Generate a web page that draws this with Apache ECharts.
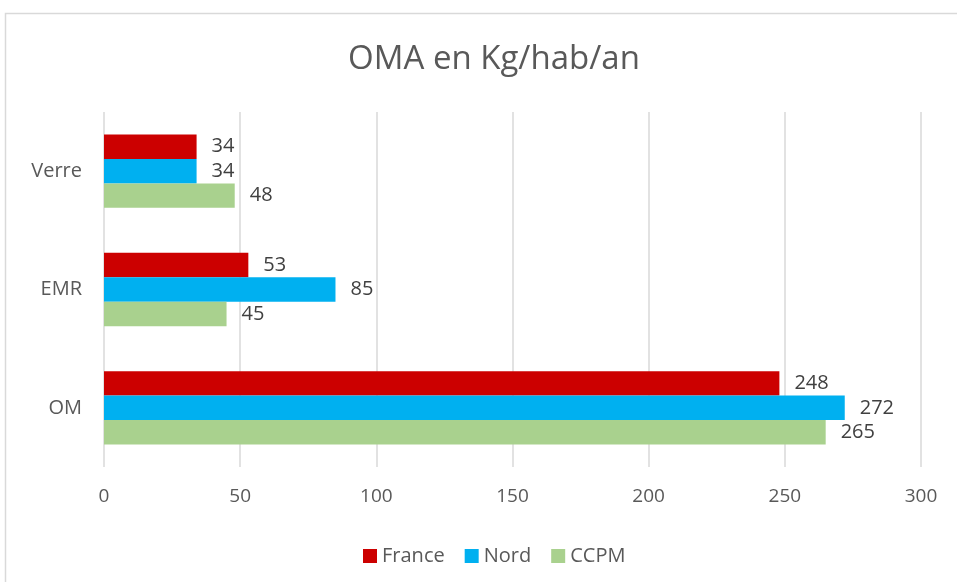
<!DOCTYPE html>
<html>
<head>
<meta charset="utf-8">
<title>OMA en Kg/hab/an</title>
<style>
  html, body { margin: 0; padding: 0; background: #fff; }
  #chart { width: 957px; height: 582px; }
</style>
<script src="https://cdn.jsdelivr.net/npm/echarts@6/dist/echarts.min.js"></script>
</head>
<body>
<div id="chart"></div>
<script>
// donnees
var categories = ['OM', 'EMR', 'Verre'];
var france = [248, 53, 34];
var nord = [272, 85, 34];
var ccpm = [265, 45, 48];
var xTicks = [0, 50, 100, 150, 200, 250, 300];

var txt = '#595959';
var font = '"Open Sans", "Noto Sans", sans-serif';

var myChart = echarts.init(document.getElementById('chart'));

function serie(name, data, color) {
  return {
    name: name,
    type: 'bar',
    data: data,
    barGap: '0%',
    barCategoryGap: '38%',
    itemStyle: { color: color },
    label: {
      show: true,
      position: 'right',
      distance: 15,
      color: '#404040',
      fontSize: 20,
      fontFamily: font
    }
  };
}

var option = {
  animation: false,
  graphic: [{
    type: 'rect',
    shape: { x: 5.5, y: 13.5, width: 1000, height: 700 },
    style: { fill: 'none', stroke: '#d9d9d9', lineWidth: 1.5 },
    silent: true
  }],
  title: {
    text: 'OMA en Kg/hab/an',
    left: 489,
    textAlign: 'center',
    top: 38,
    textStyle: { color: txt, fontSize: 33, fontWeight: 'normal', fontFamily: font }
  },
  legend: {
    data: ['France', 'Nord', 'CCPM'],
    left: 358,
    top: 541,
    itemWidth: 14,
    itemHeight: 14,
    itemGap: 20,
    icon: 'rect',
    textStyle: { color: txt, fontSize: 20, fontFamily: font },
    selectedMode: false
  },
  grid: { left: 104, right: 36, top: 112, bottom: 115, containLabel: false },
  xAxis: {
    type: 'value',
    min: xTicks[0],
    max: xTicks[xTicks.length - 1],
    interval: 50,
    axisLine: { show: false },
    axisTick: { show: false },
    axisLabel: { color: txt, fontSize: 19, fontFamily: font, margin: 20 },
    splitLine: { lineStyle: { color: '#d9d9d9', width: 1.5 } }
  },
  yAxis: {
    type: 'category',
    data: categories,
    axisLine: { show: false },
    axisTick: { show: false },
    axisLabel: { color: txt, fontSize: 20, fontFamily: font, margin: 22 }
  },
  series: [
    serie('France', france, '#cc0000'),
    serie('Nord', nord, '#00b0f0'),
    serie('CCPM', ccpm, '#a9d18e')
  ]
};

myChart.setOption(option);
</script>
</body>
</html>
